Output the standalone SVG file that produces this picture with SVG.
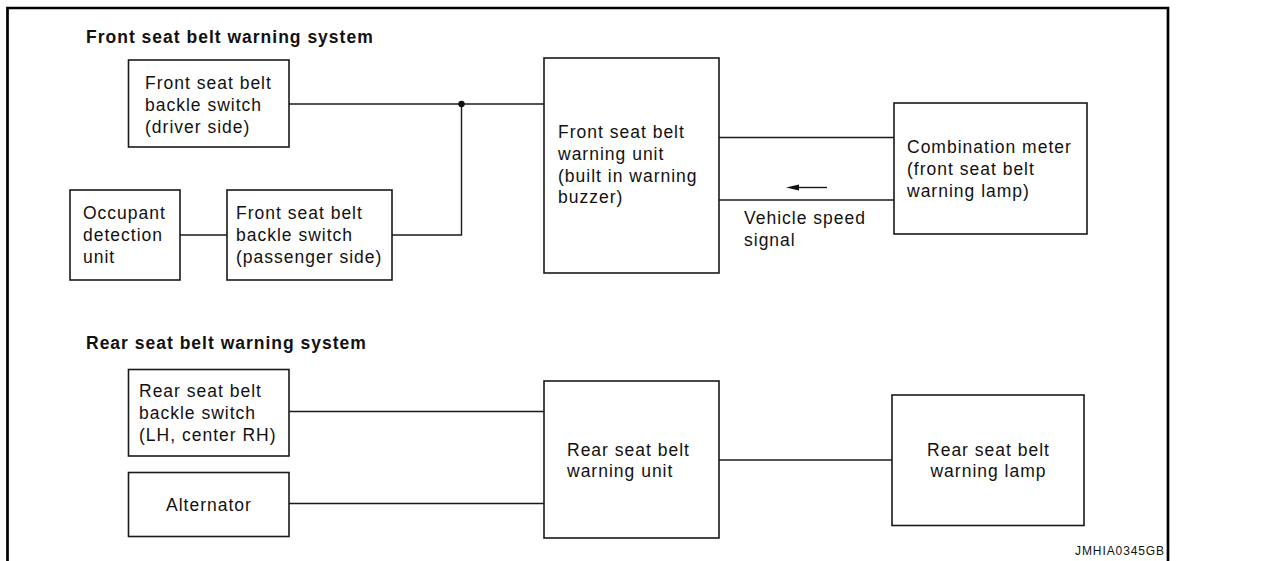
<svg xmlns="http://www.w3.org/2000/svg" width="1277" height="561" viewBox="0 0 1277 561">
<style>
  .box { fill: #fff; stroke: #1a1a1a; stroke-width: 1.6; }
  .t { font-family: "Liberation Sans", Arial, sans-serif; font-size: 17.5px; letter-spacing: 1px; fill: #111; }
  .h { font-family: "Liberation Sans", Arial, sans-serif; font-size: 17.5px; font-weight: bold; letter-spacing: 1px; fill: #111; }
  .c { text-anchor: middle; }
  .ln { stroke: #1a1a1a; stroke-width: 1.4; fill: none; }
  .code { font-family: "Liberation Sans", Arial, sans-serif; font-size: 12px; letter-spacing: 0.9px; fill: #111; text-anchor: end; }
</style>
<rect x="0" y="0" width="1277" height="561" fill="#fff"/>
<path d="M7.5,561 V8 H1168 V561" fill="none" stroke="#000" stroke-width="2.7"/>

<text class="h" x="86" y="42.5">Front seat belt warning system</text>
<text class="h" x="86" y="349">Rear seat belt warning system</text>

<g id="connectors">
  <line class="ln" x1="289" y1="104" x2="544" y2="104"/>
  <polyline class="ln" points="392,235 461.5,235 461.5,104"/>
  <circle cx="461.5" cy="104" r="3.2" fill="#111"/>
  <line class="ln" x1="180" y1="235" x2="227" y2="235"/>
  <line class="ln" x1="719" y1="137.5" x2="894" y2="137.5"/>
  <line class="ln" x1="719" y1="200" x2="894" y2="200"/>
  <line class="ln" x1="827" y1="187.5" x2="796" y2="187.5"/>
  <polygon points="786,187.5 799,184.5 799,190.5" fill="#111"/>
  <line class="ln" x1="289" y1="411.5" x2="544" y2="411.5"/>
  <line class="ln" x1="289" y1="503.5" x2="544" y2="503.5"/>
  <line class="ln" x1="719" y1="460" x2="892" y2="460"/>
</g>

<g id="front-driver-switch">
  <rect class="box" x="128.5" y="60" width="160.5" height="87"/>
  <text class="t" x="145" y="89">Front seat belt</text>
  <text class="t" x="145" y="111">backle switch</text>
  <text class="t" x="145" y="132.5">(driver side)</text>
</g>

<g id="occupant-detection">
  <rect class="box" x="70" y="190" width="110" height="90"/>
  <text class="t" x="83" y="219">Occupant</text>
  <text class="t" x="83" y="241">detection</text>
  <text class="t" x="83" y="263">unit</text>
</g>

<g id="front-passenger-switch">
  <rect class="box" x="227" y="190" width="165" height="90"/>
  <text class="t" x="236" y="219">Front seat belt</text>
  <text class="t" x="236" y="241">backle switch</text>
  <text class="t" x="236" y="263">(passenger side)</text>
</g>

<g id="front-warning-unit">
  <rect class="box" x="544" y="58" width="175" height="215"/>
  <text class="t" x="558" y="138">Front seat belt</text>
  <text class="t" x="558" y="160">warning unit</text>
  <text class="t" x="558" y="182">(built in warning</text>
  <text class="t" x="558" y="203">buzzer)</text>
</g>

<g id="vehicle-speed-label">
  <text class="t" x="744" y="224">Vehicle speed</text>
  <text class="t" x="744" y="246">signal</text>
</g>

<g id="combination-meter">
  <rect class="box" x="894" y="103" width="193" height="131"/>
  <text class="t" x="907" y="153">Combination meter</text>
  <text class="t" x="907" y="175">(front seat belt</text>
  <text class="t" x="907" y="197">warning lamp)</text>
</g>

<g id="rear-switch">
  <rect class="box" x="128.5" y="369.5" width="160.5" height="86.5"/>
  <text class="t" x="139" y="397">Rear seat belt</text>
  <text class="t" x="139" y="419">backle switch</text>
  <text class="t" x="139" y="441">(LH, center RH)</text>
</g>

<g id="alternator">
  <rect class="box" x="128.5" y="472.5" width="160.5" height="64"/>
  <text class="t c" x="209" y="511">Alternator</text>
</g>

<g id="rear-warning-unit">
  <rect class="box" x="544" y="381" width="175" height="157"/>
  <text class="t" x="567" y="456">Rear seat belt</text>
  <text class="t" x="567" y="477">warning unit</text>
</g>

<g id="rear-warning-lamp">
  <rect class="box" x="892" y="395" width="192" height="130.5"/>
  <text class="t c" x="988.5" y="456">Rear seat belt</text>
  <text class="t c" x="988.5" y="477">warning lamp</text>
</g>

<text class="code" x="1165" y="555">JMHIA0345GB</text>
</svg>
